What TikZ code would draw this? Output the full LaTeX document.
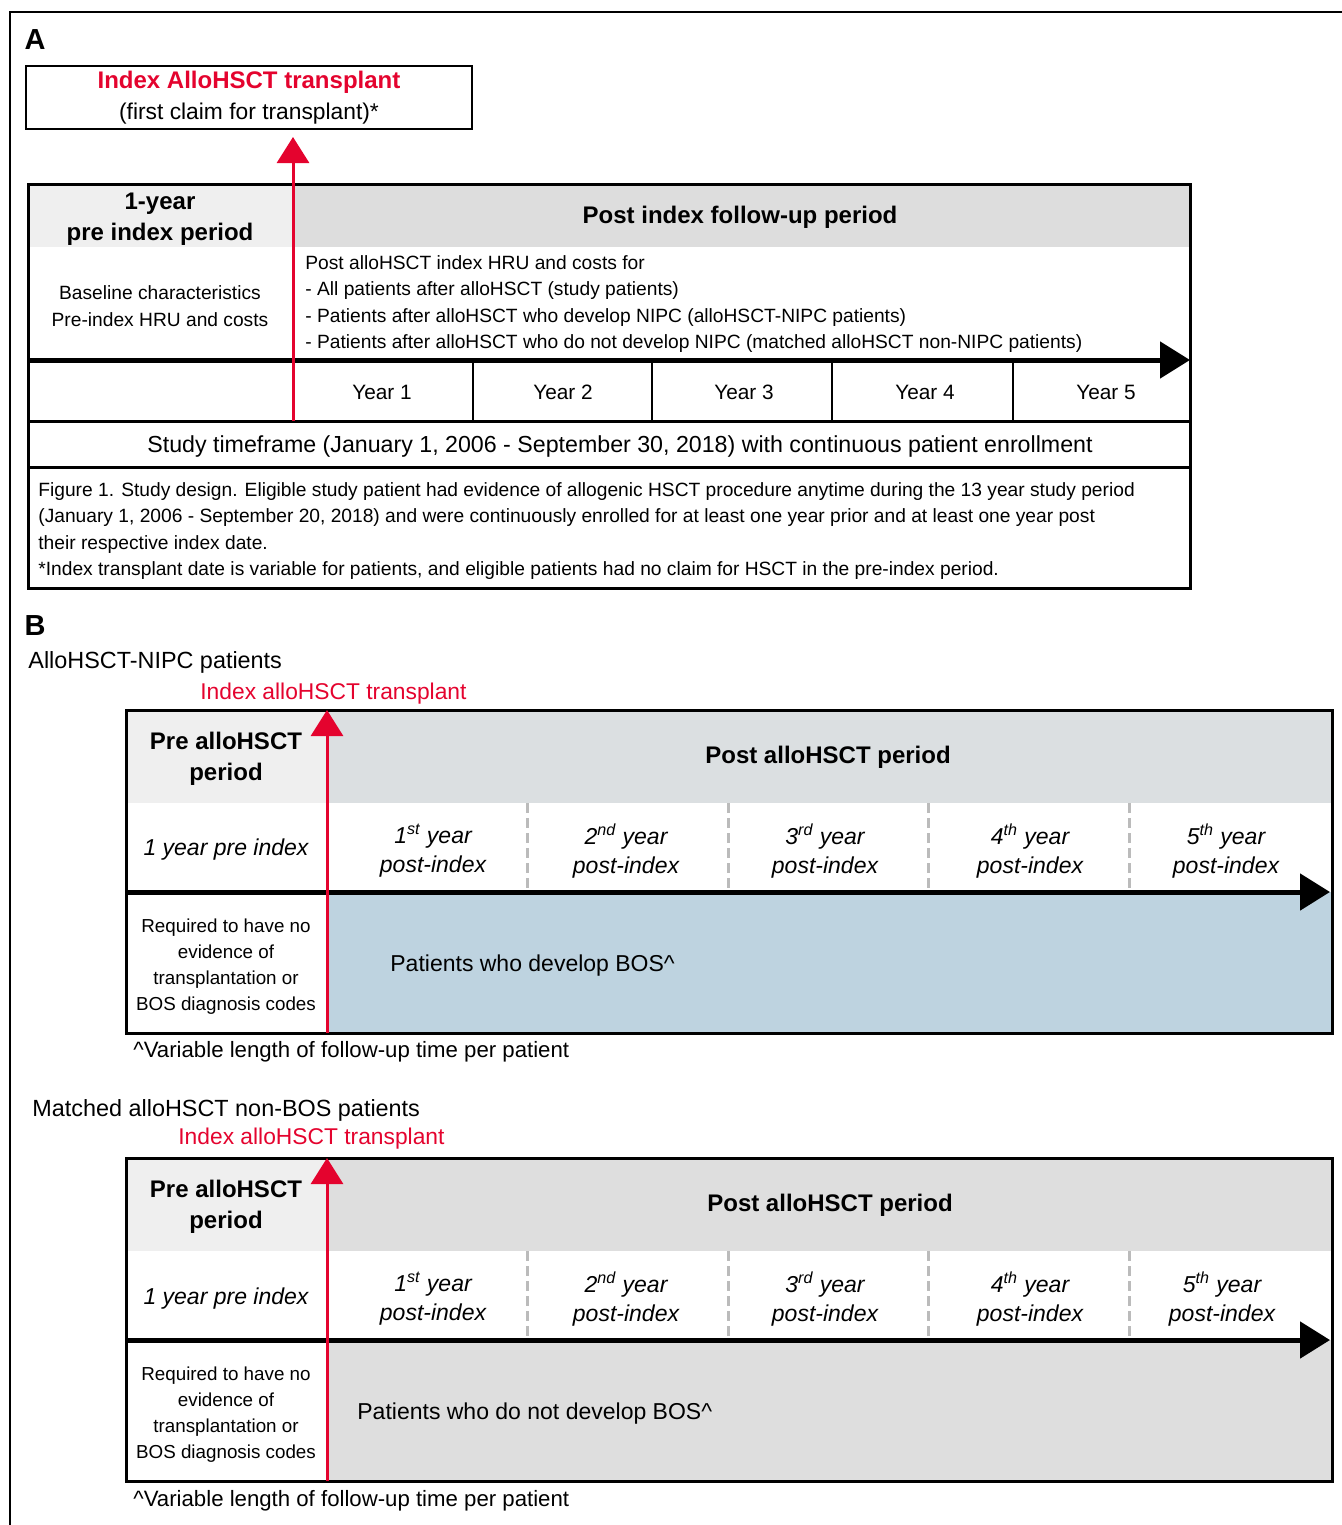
\documentclass[tikz,border=0pt]{standalone}
\usepackage{fontspec}
\setmainfont{Liberation Sans}
\usepackage{tikz}
\usetikzlibrary{arrows.meta,positioning}
\definecolor{hsRed}{HTML}{E4032E}
\definecolor{hsHeadLight}{HTML}{EFEFEF}
\definecolor{hsHead}{HTML}{DDDDDD}
\definecolor{hsHeadBlue}{HTML}{DBDFE1}
\definecolor{hsBos}{HTML}{BED3E0}
\definecolor{hsNonBos}{HTML}{DEDEDE}
\definecolor{hsDash}{HTML}{BBBBBB}
\tikzset{
    hsLabel/.style={font=\fontsize{14.5}{16}\selectfont\bfseries, inner sep=0pt},
    hsTitle/.style={font=\fontsize{12}{15.5}\selectfont\bfseries, align=center, inner sep=0pt},
    hsBody/.style={font=\fontsize{9.6}{13.3}\selectfont, align=left, inner sep=0pt},
    hsYear/.style={font=\fontsize{10.4}{12}\selectfont, inner sep=0pt},
    hsCap/.style={font=\fontsize{9.6}{13.3}\selectfont, align=left, inner sep=0pt},
    hsCell/.style={font=\fontsize{11.5}{14.5}\selectfont\itshape, align=center, inner sep=0pt},
    hsNote/.style={font=\fontsize{9.4}{13}\selectfont, align=center, inner sep=0pt},
    hsPlain/.style={font=\fontsize{11.2}{14}\selectfont, inner sep=0pt},
    hsGroup/.style={font=\fontsize{11.7}{14}\selectfont, inner sep=0pt, anchor=west},
    % Lines and arrows
    hsGrid/.style={line width=1.5pt},
    hsSplit/.style={draw=hsDash, line width=1.5pt, dash pattern=on 5pt off 2.5pt},
    hsIndex/.style={draw=hsRed, line width=1.5pt, -{Triangle[length=13pt,width=16pt]}},
    hsTime/.style={line width=2.5pt, -{Triangle[length=15pt,width=18pt]}}
}
\begin{document}
\begin{tikzpicture}[x=0.5pt, y=-0.5pt]
\useasboundingbox (0,0) rectangle (1342,1525);
\draw[line width=1pt] (10,1525) -- (10,12) -- (1342,12);

% ---------------- A ----------------
\node[hsLabel] (labA) at (35,40) {A};
\node[draw, line width=1.2pt, minimum width=223pt, minimum height=31.5pt, inner sep=0pt, align=center,
      font=\fontsize{11.4}{15.5}\selectfont] (indexBox) at (249,97.5)
     {\raisebox{-2pt}{\fontsize{12}{15.5}\selectfont\bfseries\color{hsRed}Index AlloHSCT transplant}\\\raisebox{-2pt}{(first claim for transplant)*}};

\fill[hsHeadLight] (28,184) rectangle (293,247);
\fill[hsHead] (293,184) rectangle (1190,247);
\draw[hsGrid] (28,184) rectangle (1190,588);
\draw[hsGrid] (28,421) -- (1190,421);
\draw[hsGrid] (28,467) -- (1190,467);
\foreach \x in {473,652,832,1013}
    \draw[line width=1pt] (\x,360) -- (\x,421);

\node[hsTitle] (preA) at (160,219) {1-year\\pre index period};
\node[hsTitle] (postA) at (740,217) {Post index follow-up period};
\node[hsBody, align=center] (baseA) at (160,306) {Baseline characteristics\\Pre-index HRU and costs};
\node[hsBody, anchor=west] (hruA) at (305,304) {Post alloHSCT index HRU and costs for\\
    - All patients after alloHSCT (study patients)\\
    - Patients after alloHSCT who develop NIPC (alloHSCT-NIPC patients)\\
    - Patients after alloHSCT who do not develop NIPC (matched alloHSCT non-NIPC patients)};
\foreach \i/\x in {1/382,2/563,3/744,4/925,5/1106}
    \node[hsYear] (yearA\i) at (\x,392) {Year \i};
\node[font=\fontsize{11.6}{13}\selectfont, inner sep=0pt] (frameA) at (620,446) {Study timeframe (January 1, 2006 - September 30, 2018) with continuous patient enrollment};
\node[hsCap, anchor=west] (capA) at (38,531) {Figure 1. Study design. Eligible study patient had evidence of allogenic HSCT procedure anytime during the 13 year study period\\
    (January 1, 2006 - September 20, 2018) and were continuously enrolled for at least one year prior and at least one year post\\
    their respective index date.\\
    *Index transplant date is variable for patients, and eligible patients had no claim for HSCT in the pre-index period.};

\coordinate (timeA0) at (28,360);
\coordinate (timeA1) at (1190,360);
\draw[hsTime] (timeA0) -- (timeA1);
\coordinate (idxA0) at (293,421);
\coordinate (idxA1) at (293,137);
\draw[hsIndex] (idxA0) -- (idxA1);

% ---------------- B ----------------
\node[hsLabel] (labB) at (35,626) {B};
\node[hsGroup] (grpBos) at (28,662) {AlloHSCT-NIPC patients};
\node[hsPlain, anchor=west, text=hsRed, font=\fontsize{11.4}{14}\selectfont] (idxTxtBos) at (200,694) {Index alloHSCT transplant};

\fill[hsHeadLight] (126,710) rectangle (327,803);
\fill[hsHeadBlue] (327,710) rectangle (1332,803);
\fill[hsBos] (327,892) rectangle (1332,1033);
\foreach \x in {527,728,928,1129}
    \draw[hsSplit] (\x,803) -- (\x,892);
\draw[hsGrid] (126,710) rectangle (1332,1033);

\node[hsTitle] (preBos) at (226,759) {Pre alloHSCT\\period};
\node[hsTitle] (postBos) at (828,757) {Post alloHSCT period};
\node[hsCell] (oneBos) at (226,850) {1 year pre index};
\node[hsCell] (y1Bos) at (433,851) {1\textsuperscript{st} year\\post-index};
\node[hsCell] (y2Bos) at (626,851) {2\textsuperscript{nd} year\\post-index};
\node[hsCell] (y3Bos) at (825,851) {3\textsuperscript{rd} year\\post-index};
\node[hsCell] (y4Bos) at (1030,851) {4\textsuperscript{th} year\\post-index};
\node[hsCell] (y5Bos) at (1226,851) {5\textsuperscript{th} year\\post-index};
\node[hsNote] (reqBos) at (226,967) {Required to have no\\evidence of\\transplantation or\\BOS diagnosis codes};
\node[hsPlain, anchor=west, font=\fontsize{11.5}{14}\selectfont] (devBos) at (390,966) {Patients who develop BOS\textasciicircum};
\node[hsPlain, anchor=west, font=\fontsize{11.1}{14}\selectfont] (varBos) at (133,1052) {\textasciicircum Variable length of follow-up time per patient};

\coordinate (timeBos0) at (126,892);
\coordinate (timeBos1) at (1330,892);
\draw[hsTime] (timeBos0) -- (timeBos1);
\coordinate (idxBos0) at (327,1033);
\coordinate (idxBos1) at (327,710);
\draw[hsIndex] (idxBos0) -- (idxBos1);

% matched non-BOS
\node[hsGroup] (grpNon) at (32,1110) {Matched alloHSCT non-BOS patients};
\node[hsPlain, anchor=west, text=hsRed, font=\fontsize{11.4}{14}\selectfont] (idxTxtNon) at (178,1139) {Index alloHSCT transplant};

\fill[hsHeadLight] (126,1158) rectangle (327,1251);
\fill[hsNonBos] (327,1158) rectangle (1332,1251);
\fill[hsNonBos] (327,1340) rectangle (1332,1481);
\foreach \x in {527,728,928,1129}
    \draw[hsSplit] (\x,1251) -- (\x,1340);
\draw[hsGrid] (126,1158) rectangle (1332,1481);

\node[hsTitle] (preNon) at (226,1207) {Pre alloHSCT\\period};
\node[hsTitle] (postNon) at (830,1205) {Post alloHSCT period};
\node[hsCell] (oneNon) at (226,1299) {1 year pre index};
\node[hsCell] (y1Non) at (433,1299) {1\textsuperscript{st} year\\post-index};
\node[hsCell] (y2Non) at (626,1299) {2\textsuperscript{nd} year\\post-index};
\node[hsCell] (y3Non) at (825,1299) {3\textsuperscript{rd} year\\post-index};
\node[hsCell] (y4Non) at (1030,1299) {4\textsuperscript{th} year\\post-index};
\node[hsCell] (y5Non) at (1222,1299) {5\textsuperscript{th} year\\post-index};
\node[hsNote] (reqNon) at (226,1415) {Required to have no\\evidence of\\transplantation or\\BOS diagnosis codes};
\node[hsPlain, anchor=west, font=\fontsize{11.5}{14}\selectfont] (devNon) at (357,1414) {Patients who do not develop BOS\textasciicircum};
\node[hsPlain, anchor=west, font=\fontsize{11.1}{14}\selectfont] (varNon) at (133,1501) {\textasciicircum Variable length of follow-up time per patient};

\coordinate (timeNon0) at (126,1340);
\coordinate (timeNon1) at (1330,1340);
\draw[hsTime] (timeNon0) -- (timeNon1);
\coordinate (idxNon0) at (327,1481);
\coordinate (idxNon1) at (327,1158);
\draw[hsIndex] (idxNon0) -- (idxNon1);
\end{tikzpicture}
\end{document}
